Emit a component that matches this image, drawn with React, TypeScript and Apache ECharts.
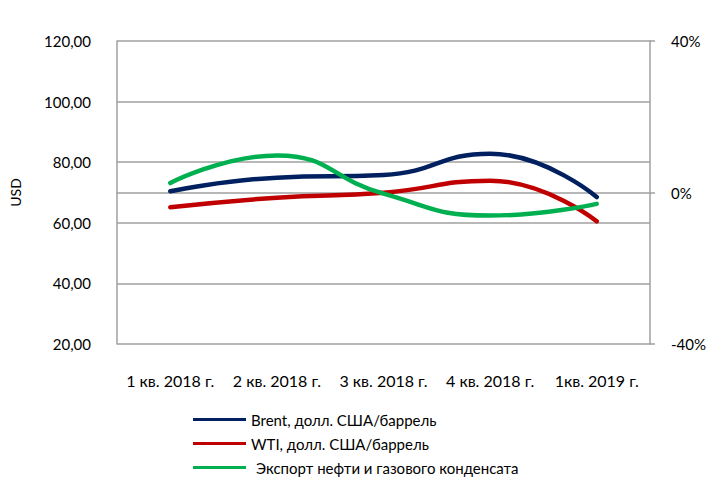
import React, { useEffect, useRef } from "react";
import * as echarts from "echarts";

const categories = ["1 кв. 2018 г.", "2 кв. 2018 г.", "3 кв. 2018 г.", "4 кв. 2018 г.", "1кв. 2019 г."];
const brent = [70.4, 74.9, 75.8, 82.8, 68.5];
const wti = [65.1, 68.3, 69.9, 73.9, 60.5];
const exportPct = [2.5, 9.8, -0.3, -6.1, -3.0];
const seriesNames = [
  "Brent, долл. США/баррель",
  "WTI, долл. США/баррель",
  "Экспорт нефти и газового конденсата",
];
const legendTops = [407, 431, 455];

const FONT = "Lato";
const GRAY = "#a0a0a0";

export default function App() {
  const ref = useRef<HTMLDivElement>(null);
  useEffect(() => {
    if (!ref.current) return;
    const chart = echarts.init(ref.current, undefined, { renderer: "svg" });
    const legends = seriesNames.map((n, i) => ({
      orient: "vertical",
      left: 188,
      top: legendTops[i],
      itemWidth: 53,
      itemHeight: 3,
      itemGap: 0,
      icon: "rect",
      textStyle: {
        fontFamily: FONT,
        fontSize: 15,
        color: "#000",
        padding: i === 2 ? [0, 0, 0, 5] : 0,
      },
      data: [n],
    }));
    chart.setOption({
      animation: false,
      backgroundColor: "#ffffff",
      textStyle: { fontFamily: FONT, color: "#000" },
      grid: { left: 113, right: 58, top: 41, bottom: 133, containLabel: false },
      legend: legends,
      xAxis: {
        type: "category",
        data: categories,
        boundaryGap: true,
        axisLine: { lineStyle: { color: GRAY, width: 1.5 } },
        axisTick: { show: false },
        axisLabel: { interval: 0, margin: 28, fontSize: 16, fontFamily: FONT, color: "#000" },
      },
      yAxis: [
        {
          type: "value",
          min: 20,
          max: 120,
          interval: 20,
          name: "USD",
          nameLocation: "middle",
          nameRotate: 90,
          nameGap: 95,
          nameTextStyle: { fontSize: 14, fontFamily: FONT, color: "#000" },
          axisLine: { show: true, lineStyle: { color: GRAY, width: 1.5 } },
          axisTick: { show: false },
          axisLabel: {
            margin: 26,
            fontSize: 15,
            fontFamily: FONT,
            color: "#000",
            formatter: (v: number) => v.toFixed(2).replace(".", ","),
          },
          splitLine: { show: true, lineStyle: { color: GRAY, width: 1.5 } },
        },
        {
          type: "value",
          min: -40,
          max: 40,
          interval: 40,
          position: "right",
          axisLine: { show: true, lineStyle: { color: GRAY, width: 1.5 } },
          axisTick: { show: true, length: 5, lineStyle: { color: GRAY, width: 1.5 } },
          axisLabel: {
            margin: 21,
            fontSize: 15,
            fontFamily: FONT,
            color: "#000",
            formatter: (v: number) => v + "%",
          },
          splitLine: { show: false },
        },
      ],
      series: [
        {
          name: seriesNames[0],
          type: "line",
          data: brent,
          yAxisIndex: 0,
          smooth: 0.5,
          symbol: "none",
          lineStyle: { width: 4.5, color: "#002060", cap: "round" },
          itemStyle: { color: "#002060" },
        },
        {
          name: seriesNames[1],
          type: "line",
          data: wti,
          yAxisIndex: 0,
          smooth: 0.5,
          symbol: "none",
          lineStyle: { width: 4.5, color: "#C00000", cap: "round" },
          itemStyle: { color: "#C00000" },
        },
        {
          name: seriesNames[2],
          type: "line",
          data: exportPct,
          yAxisIndex: 1,
          smooth: 0.5,
          symbol: "none",
          lineStyle: { width: 4.5, color: "#00B050", cap: "round" },
          itemStyle: { color: "#00B050" },
        },
      ],
    });
    return () => chart.dispose();
  }, []);
  return <div ref={ref} style={{ width: 709, height: 477, position: "absolute", left: 0, top: 0 }} />;
}
